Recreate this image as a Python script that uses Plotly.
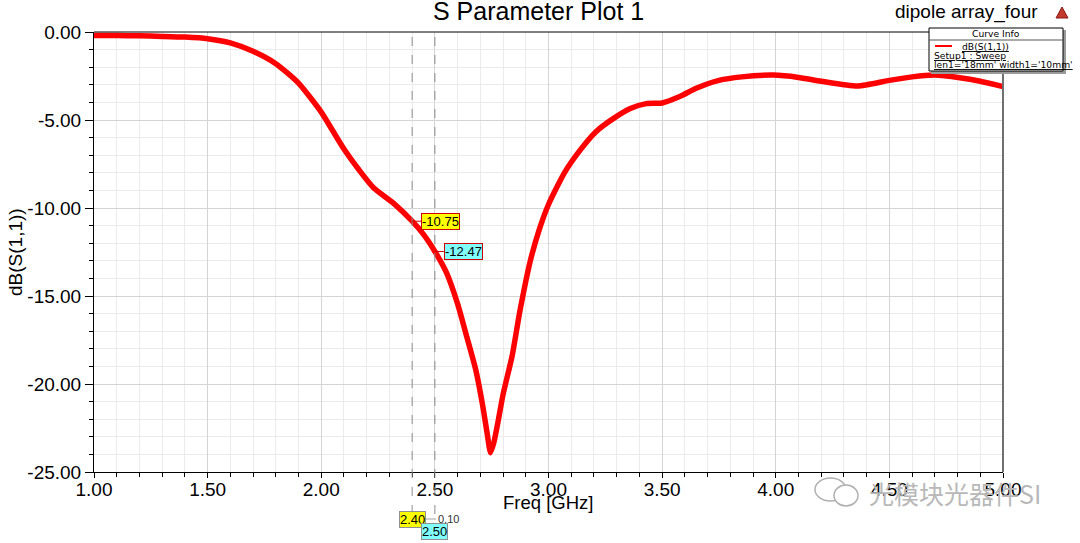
import plotly.graph_objects as go

# ---------------- data ----------------
freq_ghz = [1.00, 1.10, 1.20, 1.30, 1.40, 1.50, 1.60, 1.70, 1.80, 1.90,
            2.00, 2.05, 2.10, 2.17, 2.23, 2.32, 2.40, 2.45, 2.50, 2.55,
            2.60, 2.64, 2.68, 2.71, 2.73, 2.745, 2.76, 2.78, 2.80, 2.84,
            2.875, 2.92, 2.96, 3.00, 3.07, 3.14, 3.21, 3.29, 3.36, 3.43,
            3.50, 3.58, 3.65, 3.75, 3.85, 3.99, 4.10, 4.20, 4.36, 4.50,
            4.60, 4.70, 4.81, 4.90, 5.00]
s11_db = [-0.20, -0.20, -0.22, -0.25, -0.29, -0.38, -0.62, -1.10, -1.80, -2.90,
          -4.55, -5.60, -6.65, -7.90, -8.85, -9.75, -10.75, -11.50, -12.47, -13.65,
          -15.45, -17.30, -19.20, -21.20, -22.80, -23.90, -23.30, -22.00, -20.60, -18.40,
          -15.80, -13.00, -11.20, -9.80, -8.00, -6.70, -5.65, -4.88, -4.35, -4.07,
          -4.03, -3.65, -3.20, -2.75, -2.55, -2.45, -2.58, -2.80, -3.07, -2.75,
          -2.55, -2.45, -2.60, -2.80, -3.10]

marker_freqs = [2.40, 2.50]
marker_vals = [-10.75, -12.47]
marker_labels = ["2.40", "2.50"]
marker_delta = "0.10"

x_ticks = [1.0, 1.5, 2.0, 2.5, 3.0, 3.5, 4.0, 4.5, 5.0]
y_ticks = [0, -5, -10, -15, -20, -25]

# ---------------- layout helpers (page pixel coordinates) ----------------
L, R, T, B = 94, 1003, 32, 472
W, H = 1080, 543


def px(xp):
    return (xp - L) / (R - L)


def py(yp):
    return (B - yp) / (B - T)


FONT = "Liberation Sans, Arial, sans-serif"
SMALL = "DejaVu Sans, Verdana, sans-serif"

fig = go.Figure()
fig.add_trace(go.Scatter(
    x=freq_ghz, y=s11_db, mode="lines",
    line=dict(color="#ff0000", width=5.5, shape="spline", smoothing=0.6),
    showlegend=False, hoverinfo="skip"))

shapes = []
annotations = []

# marker dashed lines
for mf in marker_freqs:
    shapes.append(dict(type="line", xref="x", yref="paper", x0=mf, x1=mf,
                       y0=py(514), y1=1, line=dict(color="#8c8c8c", width=1, dash="dash"),
                       layer="above"))

# top and right frame
shapes.append(dict(type="line", xref="paper", yref="paper", x0=0, x1=1, y0=1, y1=1,
                   line=dict(color="black", width=1), layer="above"))
shapes.append(dict(type="line", xref="paper", yref="paper", x0=1, x1=1, y0=0, y1=1,
                   line=dict(color="#707070", width=2), layer="above"))

# marker value labels on the curve
marker_colors = ["#ffff00", "#80ffff"]
for mf, mv, c in zip(marker_freqs, marker_vals, marker_colors):
    annotations.append(dict(
        x=mf, y=mv, xref="x", yref="y", text=f"{mv:.2f}",
        showarrow=True, arrowhead=0, arrowcolor="#cc0000", arrowwidth=1,
        ax=9, ay=0, xanchor="left", yanchor="middle",
        bgcolor=c, bordercolor="#cc0000", borderwidth=1, borderpad=0,
        font=dict(family=FONT, size=13, color="black")))

# marker freq labels below axis
for mf, lab, c, yy in zip(marker_freqs, marker_labels, marker_colors, [519, 531]):
    annotations.append(dict(
        x=mf, y=py(yy), xref="x", yref="paper", text=lab, showarrow=False,
        xanchor="center", yanchor="middle", bgcolor=c, bordercolor="#909090",
        borderwidth=1, borderpad=0, font=dict(family=FONT, size=13, color="black")))
annotations.append(dict(x=px(448), y=py(519), xref="paper", yref="paper",
                        text=marker_delta, showarrow=False, xanchor="center",
                        yanchor="middle", font=dict(family=FONT, size=11, color="#333333")))
shapes.append(dict(type="line", xref="paper", yref="paper", x0=px(425), x1=px(436),
                   y0=py(519), y1=py(519), line=dict(color="#a0a0a0", width=1)))

# title & header text
annotations.append(dict(x=px(538), y=py(11), xref="paper", yref="paper",
                        text="S Parameter Plot 1", showarrow=False,
                        xanchor="center", yanchor="middle",
                        font=dict(family=FONT, size=25, color="black")))
annotations.append(dict(x=px(1040), y=py(12), xref="paper", yref="paper",
                        text="dipole array_four", showarrow=False,
                        xanchor="right", yanchor="middle",
                        font=dict(family=FONT, size=19, color="black")))
shapes.append(dict(type="path", xref="paper", yref="paper",
                   path=f"M {px(1056)} {py(18)} L {px(1062)} {py(7)} L {px(1068)} {py(18)} Z",
                   fillcolor="#c0392b", line=dict(color="#8b1a1a", width=1)))

# legend box ("Curve Info")
shapes.append(dict(type="rect", xref="paper", yref="paper",
                   x0=px(931), x1=px(1066), y0=py(74), y1=py(30),
                   fillcolor="#9a9a9a", line=dict(width=0), layer="above"))
shapes.append(dict(type="rect", xref="paper", yref="paper",
                   x0=px(929), x1=px(1063), y0=py(71), y1=py(28),
                   fillcolor="white", line=dict(color="black", width=1), layer="above"))
shapes.append(dict(type="line", xref="paper", yref="paper",
                   x0=px(929), x1=px(1063), y0=py(40), y1=py(40),
                   line=dict(color="#555555", width=1), layer="above"))
shapes.append(dict(type="line", xref="paper", yref="paper",
                   x0=px(935), x1=px(952), y0=py(46), y1=py(46),
                   line=dict(color="#ff0000", width=2), layer="above"))
annotations.append(dict(x=px(996), y=py(33.5), xref="paper", yref="paper",
                        text="Curve Info", showarrow=False, xanchor="center",
                        yanchor="middle", font=dict(family=SMALL, size=9.2, color="black")))
annotations.append(dict(x=px(960), y=py(46), xref="paper", yref="paper",
                        text="<u>dB(S(1,1))</u>", showarrow=False, xanchor="left",
                        yanchor="middle", font=dict(family=SMALL, size=9.2, color="black")))
annotations.append(dict(x=px(932), y=py(55.5), xref="paper", yref="paper",
                        text="<u>Setup1 : Sweep</u>", showarrow=False, xanchor="left",
                        yanchor="middle", font=dict(family=SMALL, size=9.2, color="black")))
annotations.append(dict(x=px(932), y=py(65), xref="paper", yref="paper",
                        text="<u>len1='18mm' width1='10mm'</u>", showarrow=False,
                        xanchor="left", yanchor="middle",
                        font=dict(family=SMALL, size=9.2, color="black")))

# axis titles
annotations.append(dict(x=px(548), y=py(502), xref="paper", yref="paper",
                        text="Freq [GHz]", showarrow=False, xanchor="center",
                        yanchor="middle", font=dict(family=FONT, size=18.5, color="black")))
annotations.append(dict(x=px(15), y=py(252), xref="paper", yref="paper",
                        text="dB(S(1,1))", showarrow=False, textangle=-90,
                        xanchor="center", yanchor="middle",
                        font=dict(family=FONT, size=19, color="black")))

# watermark
shapes.append(dict(type="circle", xref="paper", yref="paper",
                   x0=px(815), x1=px(846), y0=py(501), y1=py(478),
                   line=dict(color="#b0b0b0", width=1.5), layer="above"))
shapes.append(dict(type="circle", xref="paper", yref="paper",
                   x0=px(834), x1=px(858), y0=py(506), y1=py(485),
                   fillcolor="white", line=dict(color="#b0b0b0", width=1.5), layer="above"))
annotations.append(dict(x=px(955), y=py(493), xref="paper", yref="paper",
                        text="光模块光器件SI", showarrow=False, xanchor="center",
                        yanchor="middle",
                        font=dict(family="Noto Sans CJK SC", size=25, color="#b8b8b8")))

fig.update_layout(
    width=W, height=H,
    margin=dict(l=L, r=W - R, t=T, b=H - B, pad=0),
    paper_bgcolor="white", plot_bgcolor="white",
    shapes=shapes, annotations=annotations, showlegend=False,
    xaxis=dict(range=[1, 5], tickvals=x_ticks, ticktext=[f"{v:.2f}" for v in x_ticks],
               showline=True, linecolor="black", linewidth=1,
               ticks="outside", ticklen=5, tickcolor="black", ticklabelstandoff=-5,
               showgrid=True, gridcolor="#d4d4d4", gridwidth=1, zeroline=False,
               tickfont=dict(family=FONT, size=19, color="black"),
               minor=dict(dtick=0.1, ticks="outside", ticklen=4, tickcolor="black",
                          showgrid=True, gridcolor="#ebebeb")),
    yaxis=dict(range=[-25, 0], tickvals=y_ticks, ticktext=[f"{v:.2f}" for v in y_ticks],
               showline=True, linecolor="black", linewidth=1,
               ticks="outside", ticklen=8, tickcolor="black",
               showgrid=True, gridcolor="#d4d4d4", gridwidth=1, zeroline=False,
               tickfont=dict(family=FONT, size=19, color="black"),
               minor=dict(dtick=1, ticks="outside", ticklen=4, tickcolor="black",
                          showgrid=True, gridcolor="#ebebeb")),
)

fig.write_html("out.html",
               config={"displayModeBar": False},
               post_script="document.body.style.margin='0px';"
                           "document.body.style.overflow='hidden';")
